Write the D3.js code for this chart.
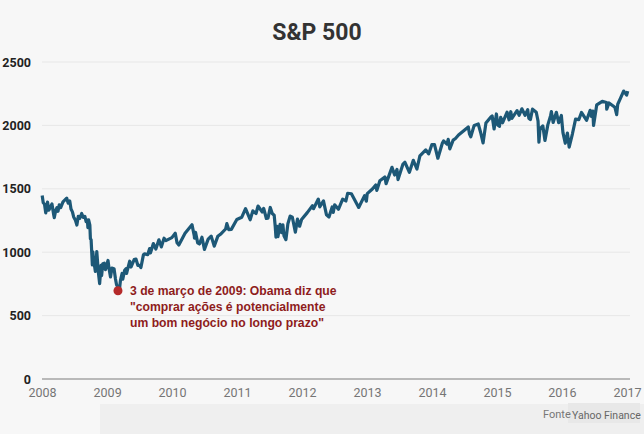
<!DOCTYPE html>
<html>
<head>
<meta charset="utf-8">
<script src="https://cdn.jsdelivr.net/npm/d3@7"></script>
<style>
  body { margin: 0; background: #f7f7f7; }
  svg { display: block; font-family: Roboto, "Liberation Sans", Arial, sans-serif; }
</style>
</head>
<body>
<div id="chart"></div>
<script>
// S&P 500 closing values, several readings per month
const dates = [
  "2008-01-02","2008-01-08","2008-01-15","2008-01-22","2008-01-28","2008-02-01","2008-02-08","2008-02-15",
  "2008-02-26","2008-03-07","2008-03-10","2008-03-18","2008-03-25","2008-03-31","2008-04-07","2008-04-15",
  "2008-04-28","2008-05-05","2008-05-19","2008-05-27","2008-06-05","2008-06-12","2008-06-20","2008-06-27",
  "2008-07-07","2008-07-15","2008-07-23","2008-07-31","2008-08-11","2008-08-20","2008-08-29","2008-09-05",
  "2008-09-12","2008-09-15","2008-09-19","2008-09-26","2008-09-29","2008-10-03","2008-10-10","2008-10-13",
  "2008-10-16","2008-10-22","2008-10-27","2008-11-04","2008-11-12","2008-11-20","2008-11-28","2008-12-01",
  "2008-12-08","2008-12-16","2008-12-23","2008-12-31",
  "2009-01-06","2009-01-12","2009-01-20","2009-01-28","2009-02-09","2009-02-17","2009-02-23","2009-02-27",
  "2009-03-03","2009-03-09","2009-03-17","2009-03-26","2009-03-30","2009-04-09","2009-04-17","2009-04-20",
  "2009-05-08","2009-05-15","2009-06-02","2009-06-12","2009-06-23","2009-07-02","2009-07-10","2009-07-24",
  "2009-07-31","2009-08-17","2009-08-28","2009-09-02","2009-09-18","2009-10-02","2009-10-19","2009-11-02",
  "2009-11-17","2009-11-27","2009-12-31",
  "2010-01-19","2010-01-29","2010-02-08","2010-02-26","2010-03-15","2010-04-23","2010-05-06","2010-05-07",
  "2010-05-13","2010-05-25","2010-06-04","2010-06-18","2010-07-02","2010-07-23","2010-08-09","2010-08-26",
  "2010-09-15","2010-09-30","2010-10-29","2010-11-05","2010-11-16","2010-11-30","2010-12-31",
  "2011-01-28","2011-02-18","2011-03-16","2011-03-31","2011-04-18","2011-04-29","2011-05-23","2011-05-31",
  "2011-06-15","2011-06-24","2011-07-07","2011-07-18","2011-07-29","2011-08-04","2011-08-08","2011-08-15",
  "2011-08-19","2011-08-31","2011-09-09","2011-09-16","2011-09-22","2011-10-03","2011-10-14","2011-10-27",
  "2011-11-08","2011-11-25","2011-12-07","2011-12-19","2011-12-30",
  "2012-01-31","2012-02-29","2012-03-06","2012-04-02","2012-04-10","2012-05-01","2012-05-18","2012-06-01",
  "2012-06-19","2012-06-25","2012-07-03","2012-07-24","2012-08-17","2012-09-04","2012-09-14","2012-10-05",
  "2012-10-23","2012-11-15","2012-12-18","2012-12-28",
  "2013-01-02","2013-01-31","2013-02-19","2013-02-25","2013-03-14","2013-04-11","2013-04-18","2013-05-21",
  "2013-06-05","2013-06-18","2013-06-24","2013-07-22","2013-08-02","2013-08-27","2013-09-18","2013-10-08",
  "2013-10-25","2013-11-27","2013-12-13","2013-12-31",
  "2014-01-15","2014-02-03","2014-02-28","2014-03-07","2014-03-26","2014-04-02","2014-04-11","2014-04-30",
  "2014-05-13","2014-05-30","2014-06-30","2014-07-24","2014-07-31","2014-08-07","2014-08-26","2014-09-18",
  "2014-10-01","2014-10-15","2014-10-31","2014-11-28","2014-12-05","2014-12-16","2014-12-29",
  "2015-01-06","2015-01-15","2015-01-22","2015-02-02","2015-02-27","2015-03-10","2015-03-20","2015-03-26",
  "2015-04-24","2015-05-06","2015-05-21","2015-06-08","2015-06-23","2015-06-29","2015-07-08","2015-07-20",
  "2015-08-10","2015-08-20","2015-08-25","2015-08-31","2015-09-16","2015-09-28","2015-10-14","2015-10-30",
  "2015-11-03","2015-11-13","2015-12-01","2015-12-14","2015-12-29",
  "2016-01-07","2016-01-20","2016-02-01","2016-02-11","2016-02-29","2016-03-18","2016-04-05","2016-04-20",
  "2016-05-19","2016-06-08","2016-06-15","2016-06-23","2016-06-27","2016-07-15","2016-08-15","2016-09-08",
  "2016-09-09","2016-09-22","2016-10-25","2016-11-04","2016-11-10","2016-11-25","2016-12-13","2016-12-30",
  "2017-01-05"
];
const closes = [
  1447,1390,1380,1310,1353,1395,1331,1349,
  1381,1294,1273,1330,1352,1323,1373,1351,
  1397,1407,1426,1387,1404,1340,1318,1278,
  1252,1214,1283,1267,1305,1274,1283,1242,
  1252,1193,1255,1213,1106,1099,899,1003,
  946,896,848,1005,852,752,896,816,
  909,913,863,903,
  935,870,805,874,870,789,743,735,
  696,677,778,832,787,856,870,832,
  929,883,942,946,895,896,879,979,
  987,980,1029,995,1068,1025,1098,1042,
  1110,1091,1115,
  1150,1074,1057,1104,1150,1217,1128,1111,
  1157,1074,1065,1118,1022,1103,1127,1048,
  1125,1141,1183,1225,1178,1180,1258,
  1276,1343,1256,1326,1305,1364,1317,1345,
  1266,1268,1353,1305,1292,1200,1119,1204,
  1123,1219,1154,1216,1129,1099,1224,1285,
  1276,1158,1261,1205,1258,
  1312,1366,1343,1419,1358,1405,1295,1278,
  1357,1314,1374,1338,1418,1404,1465,1461,
  1413,1353,1446,1402,
  1462,1498,1530,1488,1563,1593,1541,1669,
  1609,1652,1573,1695,1709,1630,1725,1656,
  1759,1807,1775,1848,
  1848,1741,1859,1878,1852,1890,1815,1884,
  1897,1924,1960,1988,1931,1910,2000,2011,
  1946,1862,2018,2067,2075,1972,2090,
  2003,1992,2063,2021,2104,2044,2108,2056,
  2117,2080,2131,2080,2124,2057,2046,2128,
  2104,2035,1868,1972,1996,1881,2004,2079,
  2109,2023,2103,2021,2078,
  1943,1859,1940,1829,1932,2050,2045,2102,
  2040,2119,2071,2113,2000,2162,2190,2181,
  2128,2177,2143,2085,2167,2213,2271,2239,
  2270
];

const yTicks = [0, 500, 1000, 1500, 2000, 2500];
const xTickYears = [2008, 2009, 2010, 2011, 2012, 2013, 2014, 2015, 2016, 2017];

const noteDate = "2009-03-03";
const noteValue = 696;
const noteLines = [
  "3 de março de 2009: Obama diz que",
  "\"comprar ações é potencialmente",
  "um bom negócio no longo prazo\""
];

const title = "S&P 500";
const sourceLabel = "Fonte";
const sourceName = "Yahoo Finance";

const W = 644, H = 434;
const margin = { top: 62, right: 17, bottom: 55, left: 42 };
const width = W - margin.left - margin.right;
const height = H - margin.top - margin.bottom;

const parse = d3.timeParse("%Y-%m-%d");
const data = dates.map((d, i) => ({ date: parse(d), value: closes[i] }));

const svgRoot = d3.select("#chart").append("svg")
  .attr("width", W)
  .attr("height", H);

svgRoot.append("rect").attr("width", W).attr("height", H).attr("fill", "#f7f7f7");
// slightly darker strip along the bottom, as in the picture
svgRoot.append("rect").attr("x", 100).attr("y", 404).attr("width", W - 100).attr("height", H - 404)
  .attr("fill", "#efefef");

svgRoot.append("text")
  .attr("x", 317).attr("y", 40)
  .attr("text-anchor", "middle")
  .attr("font-size", 23).attr("font-weight", "bold").attr("fill", "#333")
  .text(title);

const svg = svgRoot.append("g").attr("transform", `translate(${margin.left},${margin.top})`);

const x = d3.scaleTime()
  .domain([new Date(2008, 0, 1), new Date(2017, 0, 1)])
  .range([0, 585]);
const y = d3.scaleLinear().domain([0, 2500]).range([height, 0]);

// gridlines
svg.append("g")
  .selectAll("line")
  .data(yTicks)
  .join("line")
  .attr("x1", 0).attr("x2", 588)
  .attr("y1", (d) => y(d)).attr("y2", (d) => y(d))
  .attr("stroke", (d) => d === 0 ? "#b9b9b9" : "#e7e7e7")
  .attr("stroke-width", (d) => d === 0 ? 2 : 1);

// y axis labels
const yAxis = d3.axisLeft(y).tickValues(yTicks).tickFormat(d3.format("d")).tickSize(0).tickPadding(11);
svg.append("g").call(yAxis)
  .call((g) => g.select(".domain").remove())
  .selectAll("text")
  .attr("font-family", "Roboto, sans-serif")
  .attr("font-size", 12.5).attr("font-weight", "bold").attr("fill", "#222");

// x axis labels
const xAxis = d3.axisBottom(x)
  .tickValues(xTickYears.map((yr) => new Date(yr, 0, 1)))
  .tickFormat(d3.timeFormat("%Y"))
  .tickSize(0).tickPadding(9);
svg.append("g").attr("transform", `translate(0,${height})`).call(xAxis)
  .call((g) => g.select(".domain").remove())
  .selectAll("text")
  .attr("font-family", "Roboto, sans-serif")
  .attr("font-size", 12.5).attr("fill", "#757575");

// the index line
const line = d3.line()
  .x((d) => x(d.date))
  .y((d) => y(d.value));

svg.append("path")
  .datum(data)
  .attr("fill", "none")
  .attr("stroke", "#1d5877")
  .attr("stroke-width", 3.2)
  .attr("stroke-linejoin", "round")
  .attr("d", line);

// annotation
const nx = x(parse(noteDate)), ny = y(noteValue);
svg.append("circle")
  .attr("cx", nx).attr("cy", ny).attr("r", 4.5)
  .attr("fill", "#b52a2a");

svg.append("g")
  .selectAll("text")
  .data(noteLines)
  .join("text")
  .attr("x", nx + 12)
  .attr("y", (d, i) => ny + 4 + i * 16)
  .attr("font-family", "'Liberation Sans', Arial, sans-serif")
  .attr("font-size", 12.2).attr("font-weight", "bold")
  .attr("fill", "#8e1c1c")
  .text((d) => d);

// source
svgRoot.append("rect").attr("x", 568).attr("y", 403).attr("width", 72).attr("height", 20).attr("fill", "#e8e8e8");
svgRoot.append("text").attr("x", 543).attr("y", 418)
  .attr("font-size", 11).attr("fill", "#777").text(sourceLabel);
svgRoot.append("text").attr("x", 572).attr("y", 419)
  .attr("font-size", 10.5).attr("fill", "#666").text(sourceName);
</script>
</body>
</html>
